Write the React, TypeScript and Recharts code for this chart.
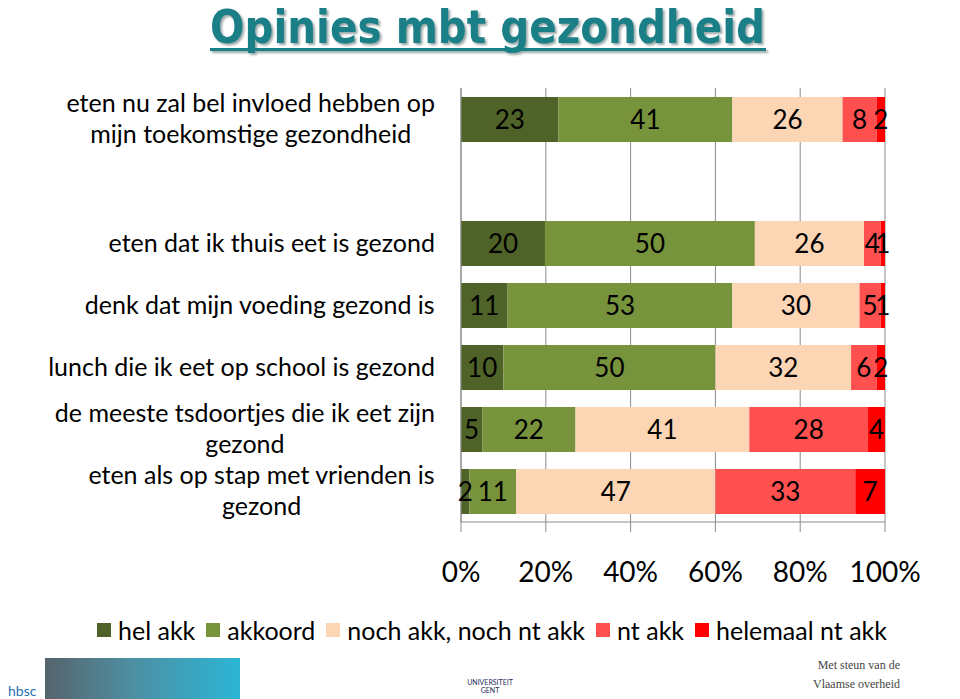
import React from 'react';
import {
  BarChart,
  Bar,
  XAxis,
  YAxis,
  CartesianGrid,
  LabelList,
} from 'recharts';

// categories (empty slot keeps the gap under the first row)
const categories = [
  'eten nu zal bel invloed hebben op\nmijn toekomstige gezondheid',
  '',
  'eten dat ik thuis eet is gezond',
  'denk dat mijn voeding gezond is',
  'lunch die ik eet op school is gezond',
  'de meeste tsdoortjes die ik eet zijn\ngezond',
  'eten als op stap met vrienden is\ngezond',
];

const helAkk = [23, null, 20, 11, 10, 5, 2];
const akkoord = [41, null, 50, 53, 50, 22, 11];
const nochAkk = [26, null, 26, 30, 32, 41, 47];
const ntAkk = [8, null, 4, 5, 6, 28, 33];
const helemaalNtAkk = [2, null, 1, 1, 2, 4, 7];

const xTicks = [0, 0.2, 0.4, 0.6, 0.8, 1];

const series = [
  { key: 'hel', name: 'hel akk', color: '#4F6228', values: helAkk },
  { key: 'akk', name: 'akkoord', color: '#77933C', values: akkoord },
  { key: 'noch', name: 'noch akk, noch nt akk', color: '#FCD5B5', values: nochAkk },
  { key: 'nt', name: 'nt akk', color: '#FF5050', values: ntAkk },
  { key: 'helemaal', name: 'helemaal nt akk', color: '#FF0000', values: helemaalNtAkk },
];

const data = categories.map((name, i) => {
  const row: any = { name };
  series.forEach((s) => {
    row[s.key] = s.values[i];
  });
  return row;
});

const FONT = 'Lato, "Open Sans", sans-serif';
const GRID = '#8c8c8c';

let ctx: CanvasRenderingContext2D | null = null;
const textWidth = (text: string, font: string) => {
  if (!ctx) ctx = document.createElement('canvas').getContext('2d');
  if (!ctx) return text.length * 11;
  ctx.font = font;
  return ctx.measureText(text).width;
};

const CategoryTick = ({ y, payload }: any) => {
  const value: string = payload.value || '';
  if (!value) return null;
  const lines = value.split('\n');
  const size = 25;
  const maxW = Math.max(...lines.map((l) => textWidth(l, `${size}px Lato`)));
  const cx = 435 - maxW / 2;
  const lh = 31;
  const startY = y - ((lines.length - 1) * lh) / 2;
  return (
    <text textAnchor="middle" fontFamily={FONT} fontSize={size} fill="#000">
      {lines.map((l, i) => (
        <tspan key={i} x={cx} y={startY + i * lh} dy="0.35em">
          {l}
        </tspan>
      ))}
    </text>
  );
};

const segmentLabel = (props: any) => {
  const { x, y, width, height, value } = props;
  if (value === null || value === undefined) return null;
  return (
    <text
      x={x + width / 2}
      y={y + height / 2}
      dy="0.35em"
      textAnchor="middle"
      fontFamily={FONT}
      fontSize={26}
      fill="#000"
    >
      {value}
    </text>
  );
};

const Legend = () => (
  <div
    style={{
      position: 'absolute',
      left: 97,
      top: 615,
      display: 'flex',
      alignItems: 'center',
      fontFamily: FONT,
      fontSize: 25,
      color: '#000',
      whiteSpace: 'nowrap',
    }}
  >
    {series.map((s) => (
      <div key={s.key} style={{ display: 'flex', alignItems: 'center', marginRight: 11 }}>
        <span style={{ width: 14, height: 14, background: s.color, marginRight: 7, display: 'inline-block' }} />
        <span>{s.name}</span>
      </div>
    ))}
  </div>
);

const Footer = () => (
  <>
    <div style={{ position: 'absolute', left: 8, top: 682, fontFamily: FONT, fontSize: 14, color: '#2a6fb0' }}>
      hbsc
    </div>
    <div
      style={{
        position: 'absolute',
        left: 45,
        top: 658,
        width: 195,
        height: 41,
        background: 'linear-gradient(90deg, #56646c 0%, #4d8fa3 45%, #2bb6d6 100%)',
      }}
    />
    <div
      style={{
        position: 'absolute',
        left: 455,
        top: 678,
        width: 70,
        textAlign: 'center',
        fontFamily: FONT,
        fontSize: 7,
        lineHeight: '8px',
        color: '#1d2d5a',
      }}
    >
      UNIVERSITEIT
      <br />
      GENT
    </div>
    <div
      style={{
        position: 'absolute',
        left: 800,
        top: 656,
        width: 100,
        textAlign: 'right',
        fontFamily: '"Liberation Serif", serif',
        fontSize: 12,
        lineHeight: '19px',
        color: '#444',
      }}
    >
      Met steun van de
      <br />
      Vlaamse overheid
    </div>
  </>
);

export default function App() {
  return (
    <div
      style={{
        position: 'absolute',
        left: 0,
        top: 0,
        width: 960,
        height: 699,
        background: '#fff',
        overflow: 'hidden',
      }}
    >
      <svg width={960} height={85} style={{ position: 'absolute', left: 0, top: 0, overflow: 'visible' }}>
        <g style={{ filter: 'drop-shadow(2px 2px 1px #9aa8a8)' }}>
          <text
            x={210}
            y={43}
            textLength={555}
            lengthAdjust="spacingAndGlyphs"
            fontFamily='"DejaVu Sans", sans-serif'
            fontWeight="bold"
            fontSize={46}
            fill="#1B7F88"
          >
            Opinies mbt gezondheid
          </text>
          <rect x={210} y={48} width={556} height={3} fill="#1B7F88" />
        </g>
      </svg>

      <BarChart
        width={960}
        height={699}
        data={data}
        layout="vertical"
        stackOffset="expand"
        barSize={45}
        margin={{ top: 88, right: 75, bottom: 0, left: 0 }}
      >
        <CartesianGrid horizontal={false} stroke={GRID} />
        <XAxis
          type="number"
          domain={[0, 1]}
          ticks={xTicks}
          tickFormatter={(v: number) => `${Math.round(v * 100)}%`}
          axisLine={{ stroke: GRID }}
          tickLine={{ stroke: GRID }}
          tickSize={10}
          tickMargin={30}
          height={177}
          tick={{ fill: '#000', fontSize: 28, fontFamily: FONT }}
          interval={0}
        />
        <YAxis
          type="category"
          dataKey="name"
          width={461}
          axisLine={{ stroke: GRID }}
          tickLine={false}
          tick={<CategoryTick />}
          interval={0}
        />
        {series.map((s) => (
          <Bar key={s.key} dataKey={s.key} name={s.name} stackId="a" fill={s.color} isAnimationActive={false}>
            <LabelList dataKey={s.key} content={segmentLabel} />
          </Bar>
        ))}
      </BarChart>

      <Legend />
      <Footer />
    </div>
  );
}
